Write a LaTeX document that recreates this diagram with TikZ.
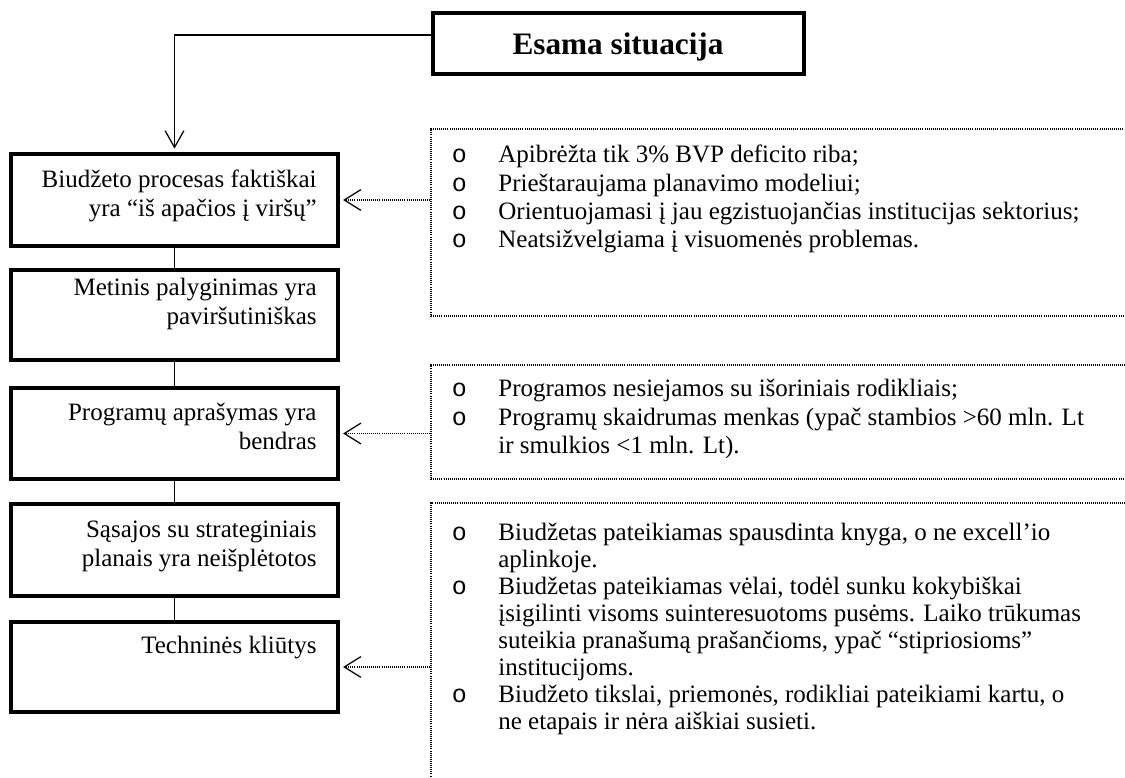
\documentclass[tikz,border=0pt]{standalone}
\usepackage{fontspec}
\setmainfont{Liberation Serif}
\newfontfamily\bulletfont{Liberation Mono}
\usetikzlibrary{arrows.meta,fit}

% block of lines set at 12pt with a given line pitch; #2 is the column type
\newcommand{\txtblock}[3]{{\fontsize{12}{#1}\selectfont\begin{tabular}[t]{@{}#2@{}}#3\end{tabular}}}
% list bullet and continuation indent
\newcommand{\itm}{\makebox[22.3pt][l]{\bulletfont o}}
\newcommand{\cnt}{\hspace*{22.3pt}}

\tikzset{
  flowbox/.style={draw, line width=1.5pt, inner sep=0pt},
  notebox/.style={draw, line width=0.5pt, dash pattern=on 0.5pt off 0.5pt, inner sep=0pt},
  link/.style={line width=0.8pt},
  feed/.style={line width=0.5pt, dash pattern=on 0.5pt off 0.5pt,
    -{Straight Barb[length=8pt,width=10pt,line width=0.6pt]}, shorten >=1.7pt},
  lbl/.style={inner sep=0pt, anchor=base east},
  notetxt/.style={inner sep=0pt, anchor=base west},
}

\begin{document}
\begin{tikzpicture}[x=0.48pt,y=-0.48pt]
\clip (0,0) rectangle (1125,778);
\fill[white] (0,0) rectangle (1125,778);

% heading box
\node[flowbox, fit={(433,13) (804,74)}] (top) {};
\node[anchor=base, inner sep=0pt, font=\bfseries\fontsize{15}{18}\selectfont] (toptxt) at (618,55) {Esama situacija};

% chain of boxes on the left
\node[flowbox, fit={(11,154) (338,246)}] (b1) {};
\node[flowbox, fit={(11,270) (338,360)}] (b2) {};
\node[flowbox, fit={(11,388) (338,479)}] (b3) {};
\node[flowbox, fit={(11,504) (338,596)}] (b4) {};
\node[flowbox, fit={(11,622) (338,712)}] (b5) {};

\node[lbl] (t1) at (317,188) {\txtblock{13.9pt}{r}{Biudžeto procesas faktiškai\\ yra “iš apačios į viršų”}};
\node[lbl] (t2) at (317,296) {\txtblock{13.9pt}{r}{Metinis palyginimas yra\\ paviršutiniškas}};
\node[lbl] (t3) at (317,420) {\txtblock{14.2pt}{r}{Programų aprašymas yra\\ bendras}};
\node[lbl] (t4) at (317,537) {\txtblock{14.2pt}{r}{Sąsajos su strateginiais\\ planais yra neišplėtotos}};
\node[lbl] (t5) at (317,653) {\txtblock{14.2pt}{r}{Techninės kliūtys}};

% dotted comment boxes (running off the right and bottom edges)
\node[notebox, fit={(431,129) (1140,316)}] (nA) {};
\node[notebox, fit={(431,365) (1140,479)}] (nB) {};
\node[notebox, fit={(431,503) (1140,800)}] (nC) {};

\node[notetxt] (tA) at (451.5,163) {\txtblock{13.6pt}{l}{%
  \itm Apibrėžta tik 3\% BVP deficito riba;\\
  \itm Prieštaraujama planavimo modeliui;\\
  \itm Orientuojamasi į jau egzistuojančias institucijas sektorius;\\
  \itm Neatsižvelgiama į visuomenės problemas.}};
\node[notetxt] (tB) at (451.5,397) {\txtblock{13.44pt}{l}{%
  \itm Programos nesiejamos su išoriniais rodikliais;\\
  \itm Programų skaidrumas menkas (ypač stambios >60 mln. Lt\\
  \cnt ir smulkios <1 mln. Lt).}};
\node[notetxt] (tC) at (451.5,540) {\txtblock{12.96pt}{l}{%
  \itm Biudžetas pateikiamas spausdinta knyga, o ne excell’io\\
  \cnt aplinkoje.\\
  \itm Biudžetas pateikiamas vėlai, todėl sunku kokybiškai\\
  \cnt įsigilinti visoms suinteresuotoms pusėms. Laiko trūkumas\\
  \cnt suteikia pranašumą prašančioms, ypač “stipriosioms”\\
  \cnt institucijoms.\\
  \itm Biudžeto tikslai, priemonės, rodikliai pateikiami kartu, o\\
  \cnt ne etapais ir nėra aiškiai susieti.}};

% connectors
\coordinate (tap) at ([yshift=4.1pt]top.west);
\draw[line width=0.6pt, -{Straight Barb[length=8pt,width=9pt,line width=0.6pt]}, shorten >=1.8pt]
  (tap) -| (b1.north);
\draw[link] (b1.south) -- (b2.north);
\draw[link] (b2.south) -- (b3.north);
\draw[link] (b3.south) -- (b4.north);
\draw[link] (b4.south) -- (b5.north);

\draw[feed] (nA.west |- b1.east) -- (b1.east);
\draw[feed] (nB.west |- b3.east) -- (b3.east);
\draw[feed] (nC.west |- b5.east) -- (b5.east);
\end{tikzpicture}
\end{document}
